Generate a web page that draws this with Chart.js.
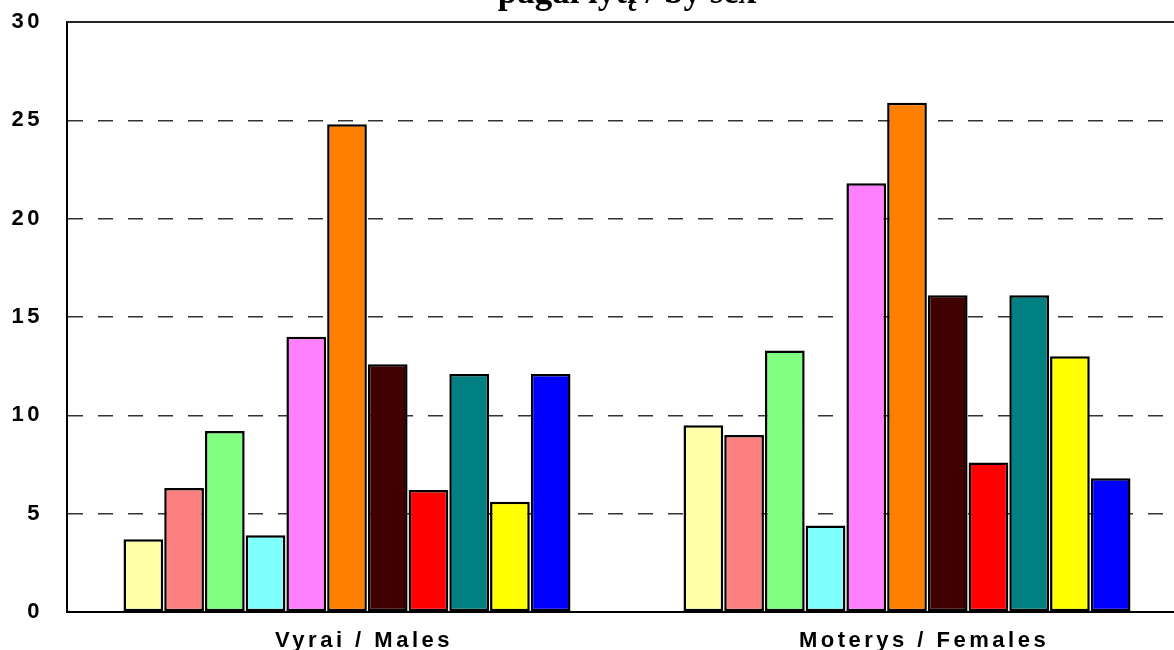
<!DOCTYPE html>
<html>
<head>
<meta charset="utf-8">
<script src="https://cdn.jsdelivr.net/npm/chart.js@4"></script>
<style>
html,body{margin:0;padding:0;background:#fff;overflow:hidden;}
#wrap{position:relative;width:1190px;height:650px;}
</style>
</head>
<body>
<div id="wrap"><canvas id="c"></canvas></div>
<script>
const titleText = "pagal lytį / by sex";
const categories = ["Vyrai / Males", "Moterys / Females"];
const yTicks = [0, 5, 10, 15, 20, 25, 30];
const seriesNames = ["1", "2", "3", "4", "5", "6", "7", "8", "9", "10", "11"];
const seriesColors = ["#FFFFAA", "#FF8080", "#80FF80", "#80FFFF", "#FF80FF", "#FF8000", "#400000", "#FF0000", "#008080", "#FFFF00", "#0000FF"];
const malesValues =   [3.7, 6.3, 9.2, 3.9, 14.0, 24.8, 12.6, 6.2, 12.1, 5.6, 12.1];
const femalesValues = [9.5, 9.0, 13.3, 4.4, 21.8, 25.9, 16.1, 7.6, 16.1, 13.0, 6.8];

const datasets = seriesNames.map((name, i) => ({
  label: name,
  data: [malesValues[i], femalesValues[i]],
  backgroundColor: seriesColors[i],
  borderColor: "#000",
  borderWidth: 2.5,
  borderSkipped: false,
  barPercentage: 0.975,
  categoryPercentage: 0.8
}));

const deco = {
  id: "deco",
  beforeDraw(chart) {
    chart.ctx.letterSpacing = "3.5px";
  },
  afterDraw(chart) {
    const ctx = chart.ctx, a = chart.chartArea;
    ctx.save();
    ctx.letterSpacing = "0px";
    ctx.strokeStyle = "#222";
    ctx.lineWidth = 2;
    ctx.beginPath();
    ctx.moveTo(a.left, a.top);
    ctx.lineTo(a.right, a.top);
    ctx.stroke();
    ctx.fillStyle = "#000";
    ctx.font = "bold 35px 'Liberation Serif', 'Times New Roman', serif";
    ctx.textAlign = "center";
    ctx.textBaseline = "alphabetic";
    ctx.fillText(titleText, (a.left + a.right) / 2, 3);
    ctx.restore();
  }
};

new Chart(document.getElementById("c"), {
  type: "bar",
  data: { labels: categories, datasets },
  options: {
    responsive: true,
    maintainAspectRatio: false,
    animation: false,
    layout: { padding: { top: 22, right: 3, left: 0, bottom: 0 } },
    plugins: { legend: { display: false }, title: { display: false }, tooltip: { enabled: false } },
    scales: {
      x: {
        offset: true,
        grid: { display: false },
        border: { display: true, color: "#000", width: 2 },
        ticks: {
          color: "#000",
          padding: 8,
          labelOffset: 17,
          font: { family: "'Liberation Sans', Arial, sans-serif", size: 22, weight: "bold" }
        },
        afterFit(scale) { scale.height = 38; }
      },
      y: {
        min: 0,
        max: 30,
        afterBuildTicks(scale) { scale.ticks = yTicks.map(v => ({ value: v })); },
        grid: {
          color: ctx => (ctx.tick && ctx.tick.value > 0 && ctx.tick.value < 30) ? "#333" : "rgba(0,0,0,0)",
          lineWidth: 1.5,
          drawTicks: true,
          tickLength: 24,
          tickColor: "rgba(0,0,0,0)"
        },
        border: { display: true, color: "#000", width: 2, dash: [15, 15] },
        ticks: {
          color: "#000",
          padding: 0,
          font: { family: "'Liberation Sans', Arial, sans-serif", size: 22, weight: "bold" }
        },
        afterFit(scale) { scale.width = 67; }
      }
    }
  },
  plugins: [deco]
});
</script>
</body>
</html>
